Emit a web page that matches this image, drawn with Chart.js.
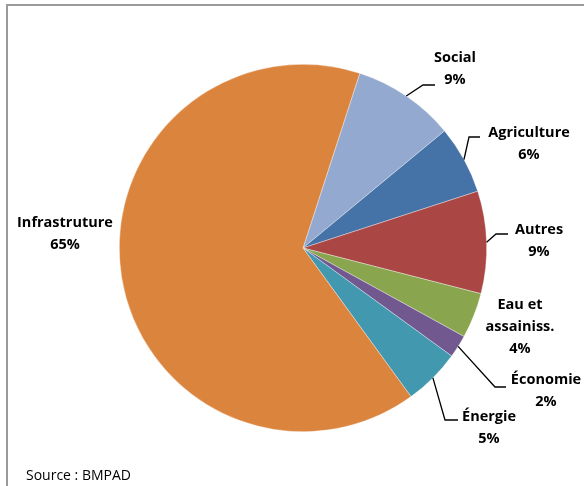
<!DOCTYPE html>
<html>
<head>
<meta charset="utf-8">
<script src="https://cdn.jsdelivr.net/npm/chart.js@4/dist/chart.umd.min.js"></script>
<style>
  html, body { margin: 0; padding: 0; background: #ffffff; }
  #wrap { width: 584px; height: 486px; position: relative; }
</style>
</head>
<body>
<div id="wrap"><canvas id="c" width="584" height="486"></canvas></div>
<script>
// ---- data ----
const categories = ['Social', 'Agriculture', 'Autres', 'Eau et assainiss.', 'Économie', 'Énergie', 'Infrastruture'];
const labelLines = [['Social'], ['Agriculture'], ['Autres'], ['Eau et', 'assainiss.'], ['Économie'], ['Énergie'], ['Infrastruture']];
const values = [9, 6, 9, 4, 2, 5, 65];
const sourceNote = 'Source : BMPAD';

// ---- styles ----
const colors = ['#93A9CF', '#4572A7', '#AA4643', '#89A54E', '#71588F', '#4198AF', '#DB843D'];
// label block position (first line centre) relative to pie centre, and leader elbow/end (relative), or null
const labelLayout = [
  { dx: 152, dy: -190, elbow: [120, -163], end: [132, -163] },
  { dx: 226, dy: -115, elbow: [166, -111], end: [177, -111] },
  { dx: 236, dy: -18, elbow: [193, -14], end: [205, -14] },
  { dx: 217, dy: 57, elbow: null, end: null },
  { dx: 243, dy: 132, elbow: [192, 139], end: [203, 139] },
  { dx: 186, dy: 169, elbow: [142, 172], end: [155, 172] },
  { dx: -238, dy: -25, elbow: null, end: null }
];
const labelFont = 'bold 14.5px "Open Sans", "Noto Sans", sans-serif';
const lineH = 22;

const total = values.reduce((a, b) => a + b, 0);

const framePlugin = {
  id: 'frame',
  beforeDraw(chart) {
    const ctx = chart.ctx;
    ctx.save();
    ctx.fillStyle = '#ffffff';
    ctx.fillRect(0, 0, chart.width, chart.height);
    ctx.strokeStyle = '#9a9a9a';
    ctx.lineWidth = 2;
    ctx.beginPath();
    ctx.moveTo(7, chart.height + 5);
    ctx.lineTo(7, 5);
    ctx.lineTo(chart.width + 5, 5);
    ctx.stroke();
    ctx.font = '14px "Open Sans", "Noto Sans", sans-serif';
    ctx.fillStyle = '#000000';
    ctx.textAlign = 'left';
    ctx.textBaseline = 'alphabetic';
    ctx.fillText(sourceNote, 26, 480);
    ctx.restore();
  }
};

const labelPlugin = {
  id: 'pieLabels',
  afterDatasetsDraw(chart) {
    const ctx = chart.ctx;
    const meta = chart.getDatasetMeta(0);
    ctx.save();
    meta.data.forEach((arc, i) => {
      const p = arc.getProps(['x', 'y', 'startAngle', 'endAngle', 'outerRadius'], true);
      const mid = (p.startAngle + p.endAngle) / 2;
      const ex = p.x + Math.cos(mid) * p.outerRadius;
      const ey = p.y + Math.sin(mid) * p.outerRadius;
      const L = labelLayout[i];
      if (L.elbow) {
        ctx.strokeStyle = '#000000';
        ctx.lineWidth = 1.3;
        ctx.beginPath();
        ctx.moveTo(ex, ey);
        ctx.lineTo(p.x + L.elbow[0], p.y + L.elbow[1]);
        ctx.lineTo(p.x + L.end[0], p.y + L.end[1]);
        ctx.stroke();
      }
      const lines = labelLines[i].concat([Math.round(values[i] / total * 100) + '%']);
      ctx.font = labelFont;
      ctx.fillStyle = '#000000';
      ctx.textAlign = 'center';
      ctx.textBaseline = 'middle';
      lines.forEach((t, k) => {
        ctx.fillText(t, p.x + L.dx, p.y + L.dy + k * lineH);
      });
    });
    ctx.restore();
  }
};

new Chart(document.getElementById('c'), {
  type: 'pie',
  data: {
    labels: categories,
    datasets: [{
      data: values,
      backgroundColor: colors,
      borderColor: 'rgba(255,255,255,0.6)',
      borderWidth: 0.6
    }]
  },
  options: {
    responsive: false,
    animation: false,
    rotation: 18,
    layout: { padding: { top: 64, bottom: 54, left: 119, right: 97 } },
    plugins: {
      legend: { display: false },
      tooltip: { enabled: false },
      title: { display: false }
    }
  },
  plugins: [framePlugin, labelPlugin]
});
</script>
</body>
</html>
